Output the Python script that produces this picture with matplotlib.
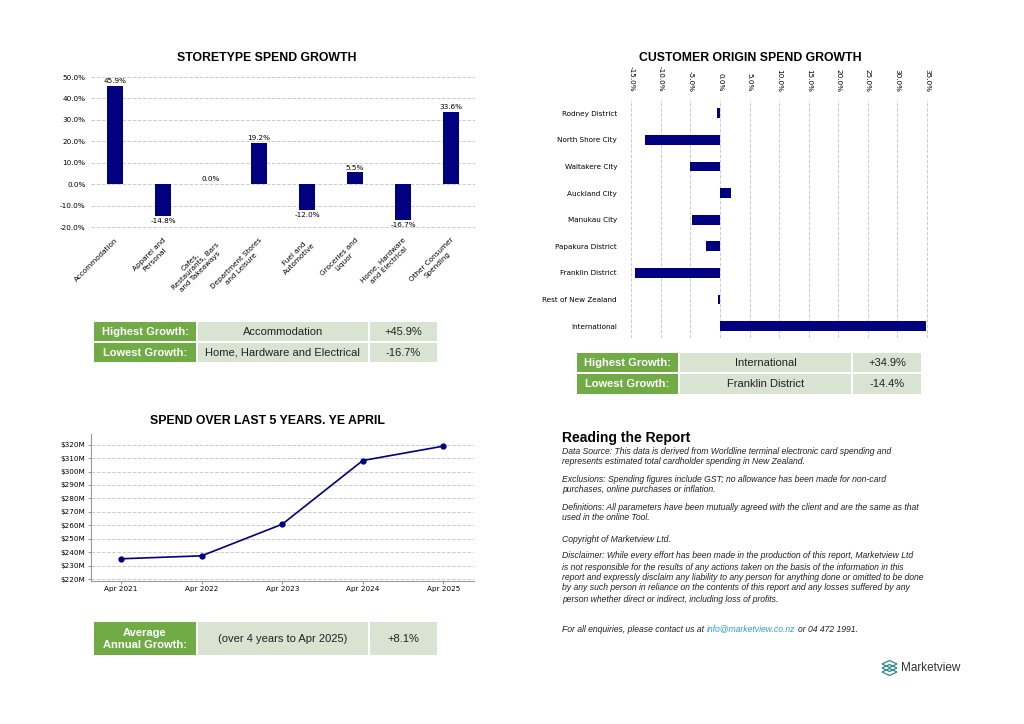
import matplotlib
matplotlib.use("Agg")
from matplotlib import pyplot as plt
from matplotlib.patches import Rectangle, Polygon

W, H = 1024, 724

# ---- data ----
store_types = ["Accommodation", "Apparel and\nPersonal", "Cafes,\nRestaurants, Bars\nand Takeaways",
               "Department Stores\nand Leisure", "Fuel and\nAutomotive", "Groceries and\nLiquor",
               "Home, Hardware\nand Electrical", "Other Consumer\nSpending"]
store_growth = [45.9, -14.8, 0.0, 19.2, -12.0, 5.5, -16.7, 33.6]

origins = ["Rodney District", "North Shore City", "Waitakere City", "Auckland City", "Manukau City",
           "Papakura District", "Franklin District", "Rest of New Zealand", "International"]
origin_growth = [-0.5, -12.7, -5.0, 1.8, -4.7, -2.3, -14.4, -0.3, 34.9]

years = ["Apr 2021", "Apr 2022", "Apr 2023", "Apr 2024", "Apr 2025"]
spend = [235.1, 237.3, 260.8, 308.2, 318.9]

store_table = [["Highest Growth:", "Accommodation", "+45.9%"],
               ["Lowest Growth:", "Home, Hardware and Electrical", "-16.7%"]]
origin_table = [["Highest Growth:", "International", "+34.9%"],
                ["Lowest Growth:", "Franklin District", "-14.4%"]]
avg_table = [["Average\nAnnual Growth:", "(over 4 years to Apr 2025)", "+8.1%"]]

notes = [
    (452, "Data Source: This data is derived from Worldline terminal electronic card spending and"),
    (462, "represents estimated total cardholder spending in New Zealand."),
    (480, "Exclusions: Spending figures include GST; no allowance has been made for non-card"),
    (490, "purchases, online purchases or inflation."),
    (507, "Definitions: All parameters have been mutually agreed with the client and are the same as that"),
    (517, "used in the online Tool."),
    (540, "Copyright of Marketview Ltd."),
    (556, "Disclaimer: While every effort has been made in the production of this report, Marketview Ltd"),
    (567, "is not responsible for the results of any actions taken on the basis of the information in this"),
    (578, "report and expressly disclaim any liability to any person for anything done or omitted to be done"),
    (588, "by any such person in reliance on the contents of this report and any losses suffered by any"),
    (599, "person whether direct or indirect, including loss of profits."),
]

NAVY = "#000080"
GREEN = "#70AB45"
LIGHT = "#D8E3D2"
GRID = "#cccccc"
SANS = "Liberation Sans"
BODY = 6.2

fig = plt.figure(figsize=(W / 100, H / 100), dpi=100)

bg = fig.add_axes([0, 0, 1, 1])
bg.set_xlim(0, W)
bg.set_ylim(H, 0)
bg.axis("off")


def px_axes(left, top, right, bottom):
    return fig.add_axes([left / W, 1 - bottom / H, (right - left) / W, (bottom - top) / H])


def draw_table(data, cols, rows):
    for (top, bot), row in zip(rows, data):
        for j, ((x0, x1), txt) in enumerate(zip(cols, row)):
            bg.add_patch(Rectangle((x0, top), x1 - x0, bot - top,
                                   color=GREEN if j == 0 else LIGHT, lw=0))
            if j == 0:
                bg.text((x0 + x1) / 2, (top + bot) / 2 + 0.5, txt, ha="center", va="center",
                        color="white", fontweight="bold", fontsize=8, family=SANS,
                        linespacing=1.2)
            else:
                bg.text((x0 + x1) / 2, (top + bot) / 2 + 0.5, txt, ha="center", va="center",
                        color="#222222", fontsize=8, family=SANS)


# ---- storetype spend growth ----
ax1 = px_axes(91, 70.6, 475, 231.3)
x = range(len(store_types))
ax1.bar(x, store_growth, width=0.32, color=NAVY, zorder=3)
for i, v in zip(x, store_growth):
    if v >= 0:
        ax1.text(i, v + 0.8, f"{v:.1f}%", ha="center", va="bottom", fontsize=5.2)
    else:
        ax1.text(i, v - 0.8, f"{v:.1f}%", ha="center", va="top", fontsize=5.2)
ax1.set_xlim(-0.5, 7.5)
ax1.set_ylim(-22, 53)
ax1.set_yticks([-20, -10, 0, 10, 20, 30, 40, 50])
ax1.set_yticklabels([f"{t:.1f}%" for t in ax1.get_yticks()])
ax1.set_xticks(list(x))
ax1.set_xticklabels(store_types, rotation=45, ha="right", rotation_mode="anchor",
                    multialignment="center")
ax1.tick_params(length=0, labelsize=5.2, pad=4)
ax1.grid(axis="y", ls="--", color=GRID, lw=0.7, zorder=0)
for s in ax1.spines.values():
    s.set_visible(False)

# ---- customer origin spend growth ----
ax2 = px_axes(625.4, 100, 932.9, 338)
y = range(len(origins))
ax2.barh(y, origin_growth, height=0.37, color=NAVY, zorder=3)
ax2.set_xlim(-16, 36)
ax2.set_ylim(8.45, -0.5)
ax2.set_xticks(range(-15, 40, 5))
ax2.set_xticklabels([f"{t:.1f}%" for t in range(-15, 40, 5)], rotation=-90)
ax2.xaxis.tick_top()
ax2.set_yticks(list(y))
ax2.set_yticklabels(origins)
ax2.tick_params(length=0, labelsize=5.2, pad=6)
ax2.grid(axis="x", ls="--", color=GRID, lw=0.7, zorder=0)
for s in ax2.spines.values():
    s.set_visible(False)

# ---- spend over last 5 years ----
ax3 = px_axes(90.7, 434.3, 474, 580.7)
ax3.plot(range(len(years)), spend, color=NAVY, marker="o", ms=3.5, lw=1.2, zorder=3)
ax3.set_xlim(-0.376, 4.38)
ax3.set_ylim(218.8, 327.7)
ax3.set_yticks(range(220, 330, 10))
ax3.set_yticklabels([f"${t}M" for t in range(220, 330, 10)])
ax3.set_xticks(range(len(years)))
ax3.set_xticklabels(years)
ax3.tick_params(length=2, labelsize=5.2, pad=2, color="#999999")
ax3.grid(axis="y", ls="--", color=GRID, lw=0.7, zorder=0)
ax3.spines["top"].set_visible(False)
ax3.spines["right"].set_visible(False)
ax3.spines["left"].set_color("#999999")
ax3.spines["bottom"].set_color("#999999")

# ---- titles ----
for cx, cy, t in [(267, 58, "STORETYPE SPEND GROWTH"),
                  (750, 58, "CUSTOMER ORIGIN SPEND GROWTH"),
                  (267, 421, "SPEND OVER LAST 5 YEARS. YE APRIL")]:
    bg.text(cx, cy, t, ha="center", va="center", fontsize=8.8, fontweight="bold", family=SANS)

# ---- tables ----
draw_table(store_table, [(94, 196), (198, 367.5), (369.5, 437)], [(321.5, 341), (342.5, 362)])
draw_table(origin_table, [(577, 678), (680, 851), (853, 921)], [(352.5, 372), (373.5, 393.5)])
draw_table(avg_table, [(94, 196), (198, 367.5), (369.5, 437)], [(622, 655)])

# ---- reading the report ----
bg.text(562, 438, "Reading the Report", ha="left", va="center", fontsize=10,
        fontweight="bold", family=SANS)
for ny, line in notes:
    bg.text(562, ny, line, ha="left", va="center", fontsize=BODY, style="italic",
            family=SANS, color="#222222")

renderer = fig.canvas.get_renderer()
xpos = 562
for piece, col in [("For all enquiries, please contact us at", "#222222"),
                   ("info@marketview.co.nz", "#2A9FD6"),
                   ("or 04 472 1991.", "#222222")]:
    t = bg.text(xpos, 629, piece, ha="left", va="center", fontsize=BODY, style="italic",
                family=SANS, color=col)
    xpos += t.get_window_extent(renderer=renderer).width + 3

# ---- logo ----
TEAL = "#2E8A8C"
for dy in (0, 4, 8):
    bg.add_patch(Polygon([(882, 664 + dy), (889.5, 660.5 + dy), (897, 664 + dy), (889.5, 667.5 + dy)],
                         closed=True, fill=False, edgecolor=TEAL, lw=0.9))
bg.text(901, 668, "Marketview", ha="left", va="center", fontsize=8.5, family=SANS, color="#333333")

fig.savefig("out.png", dpi=100)
